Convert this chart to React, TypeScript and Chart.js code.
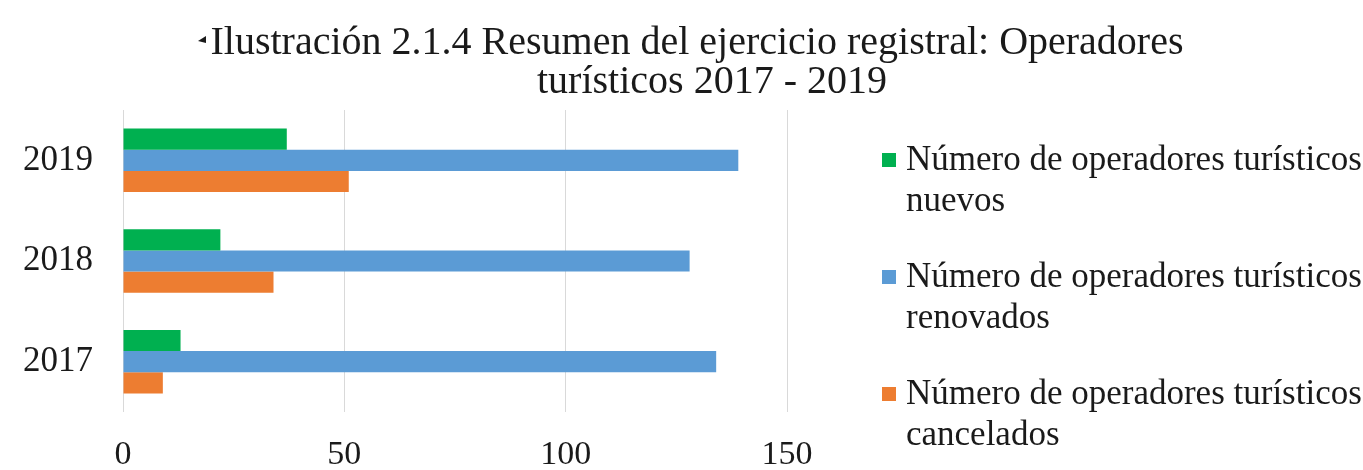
import React, { useEffect, useRef } from "react";
import { Chart, registerables } from "chart.js";

Chart.register(...registerables);

const years = ["2019", "2018", "2017"];
const nuevos = [37, 22, 13];
const renovados = [139, 128, 134];
const cancelados = [51, 34, 9];
const seriesLines = [
  ["Número de operadores turísticos", "nuevos"],
  ["Número de operadores turísticos", "renovados"],
  ["Número de operadores turísticos", "cancelados"],
];
const seriesColors = ["#00b050", "#5b9bd5", "#ed7d31"];
const titleLines = [
  "Ilustración 2.1.4 Resumen del ejercicio registral: Operadores",
  "turísticos 2017 - 2019",
];
const xMin = 0;
const xMax = 150;
const xStep = 50;

const FONT = '"Liberation Serif", "Times New Roman", serif';

const overlay = {
  id: "overlay",
  afterDraw(chart: any) {
    const ctx = chart.ctx as CanvasRenderingContext2D;
    ctx.save();
    ctx.fillStyle = "#1a1a1a";
    ctx.textBaseline = "alphabetic";
    ctx.textAlign = "center";
    ctx.font = `40px ${FONT}`;
    ctx.fillText(titleLines[0], 697, 54);
    ctx.fillText(titleLines[1], 712, 93);
    // small caption marker
    ctx.beginPath();
    ctx.moveTo(198, 41);
    ctx.lineTo(206, 36);
    ctx.lineTo(206, 43);
    ctx.closePath();
    ctx.fill();

    // legend
    ctx.textAlign = "left";
    ctx.font = `35px ${FONT}`;
    seriesLines.forEach((lines, i) => {
      const base = 170 + i * 117;
      ctx.fillStyle = seriesColors[i];
      ctx.fillRect(882, base - 17, 14, 14);
      ctx.fillStyle = "#1a1a1a";
      lines.forEach((ln, j) => ctx.fillText(ln, 906, base + j * 41));
    });
    ctx.restore();
  },
};

export default function App() {
  const ref = useRef<HTMLCanvasElement | null>(null);
  useEffect(() => {
    if (!ref.current) return;
    const chart = new Chart(ref.current, {
      type: "bar",
      data: {
        labels: years,
        datasets: [nuevos, renovados, cancelados].map((d, i) => ({
          label: seriesLines[i].join(" "),
          data: d,
          backgroundColor: seriesColors[i],
          borderWidth: 0,
          categoryPercentage: 0.63,
          barPercentage: 1,
        })),
      },
      options: {
        indexAxis: "y",
        responsive: false,
        animation: false,
        layout: { padding: { top: 110, right: 576, bottom: 0, left: 0 } },
        plugins: {
          legend: { display: false },
          title: { display: false },
          tooltip: { enabled: false },
        },
        scales: {
          x: {
            min: xMin,
            max: xMax,
            ticks: {
              stepSize: xStep,
              color: "#1a1a1a",
              font: { family: FONT, size: 34 },
              padding: 23,
            },
            grid: { color: "#d9d9d9", drawTicks: false, lineWidth: 1 },
            border: { display: false },
            afterFit(scale: any) {
              scale.height = 58;
            },
          },
          y: {
            ticks: {
              color: "#1a1a1a",
              font: { family: FONT, size: 35 },
              padding: 30,
            },
            grid: { display: false, drawTicks: false },
            border: { display: false },
            afterFit(scale: any) {
              scale.width = 123;
            },
          },
        },
      },
      plugins: [overlay],
    });
    return () => chart.destroy();
  }, []);
  return (
    <div style={{ position: "absolute", left: 0, top: 0, width: 1363, height: 470, background: "#fff" }}>
      <canvas ref={ref} width={1363} height={470} style={{ display: "block" }} />
    </div>
  );
}
